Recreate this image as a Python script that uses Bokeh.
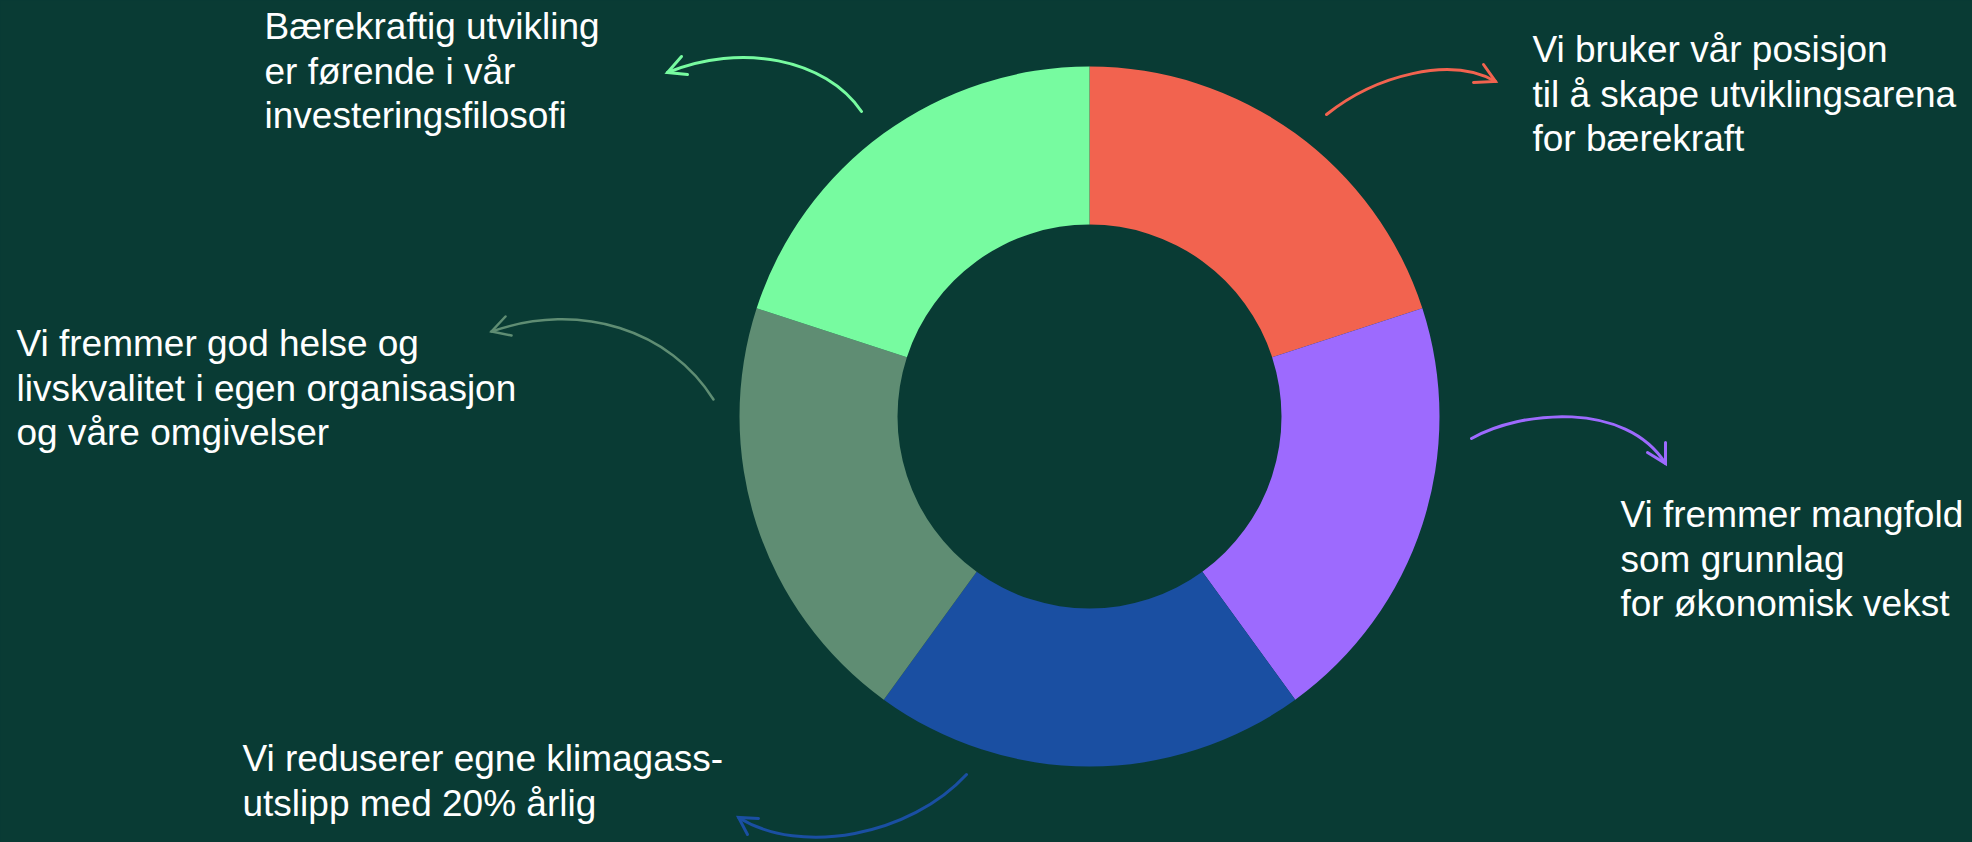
import numpy as np
from bokeh.plotting import figure
from bokeh.models import Range1d, ColumnDataSource
from bokeh.core.properties import value
from bokeh.embed import file_html
from bokeh.resources import INLINE

# ---- data ----
pillars = ["Vi bruker vår posisjon til å skape utviklingsarena for bærekraft",
           "Vi fremmer mangfold som grunnlag for økonomisk vekst",
           "Vi reduserer egne klimagassutslipp med 20% årlig",
           "Vi fremmer god helse og livskvalitet",
           "Bærekraftig utvikling er førende i vår investeringsfilosofi"]
shares = [1, 1, 1, 1, 1]
colors = ["#F2634F", "#9D6AFE", "#1A4FA2", "#5F8D73", "#77FBA0"]

label_lines = [
    ["Vi bruker vår posisjon", "til å skape utviklingsarena", "for bærekraft"],
    ["Vi fremmer mangfold", "som grunnlag", "for økonomisk vekst"],
    ["Vi reduserer egne klimagass-", "utslipp med 20% årlig"],
    ["Vi fremmer god helse og", "livskvalitet i egen organisasjon", "og våre omgivelser"],
    ["Bærekraftig utvikling", "er førende i vår", "investeringsfilosofi"],
]
# label anchors (page px: left x, first line y)
label_x = [1532, 1620, 242, 16, 264]
label_y = [49, 514, 758, 343, 26]
line_gap = 44.5

# arrows (page px): start, control 1, control 2, tip, arrowhead arms
arrow_start = [(1326, 114), (1471, 438), (966, 774), (713, 399), (861, 111)]
arrow_c1 = [(1375, 75), (1520, 410), (910, 835), (670, 330), (825, 58)]
arrow_c2 = [(1450, 55), (1625, 400), (800, 856), (580, 300), (740, 42)]
arrow_tip = [(1495, 81), (1665, 463), (738, 817), (491, 331), (667, 72)]
arrow_arm1 = [(1483, 64), (1647, 452), (758, 818), (505, 316), (681, 56)]
arrow_arm2 = [(1473, 82), (1665, 442), (747, 834), (511, 335), (687, 74)]
arrow_width = [3, 3, 3, 2.5, 3]

BG = "#093B34"
W, H = 1972, 842
cx, cy = 1089, 416
r_out, r_in = 350, 192

p = figure(width=W, height=H, output_backend="svg", toolbar_location=None,
           x_range=Range1d(0, W), y_range=Range1d(-H, 0),
           min_border=0, background_fill_color=BG, border_fill_color=BG,
           outline_line_color=None)
p.axis.visible = False
p.grid.visible = False

vals = np.array(shares, dtype=float)
cum = np.cumsum(vals) / vals.sum()
prev = np.concatenate([[0], cum[:-1]])
end_a = np.pi / 2 - 2 * np.pi * prev
start_a = np.pi / 2 - 2 * np.pi * cum
src = ColumnDataSource(dict(start=start_a, end=end_a, color=colors, name=pillars))
p.annular_wedge(x=cx, y=-cy, inner_radius=r_in, outer_radius=r_out,
                start_angle="start", end_angle="end", color="color",
                line_color=None, source=src)

# arrows
for i in range(5):
    (x0, y0), (x1, y1) = arrow_start[i], arrow_tip[i]
    (c1x, c1y), (c2x, c2y) = arrow_c1[i], arrow_c2[i]
    p.bezier(x0=x0, y0=-y0, x1=x1, y1=-y1, cx0=c1x, cy0=-c1y, cx1=c2x, cy1=-c2y,
             line_color=colors[i], line_width=arrow_width[i], line_cap="round")
    ax = [arrow_arm1[i][0], x1, arrow_arm2[i][0]]
    ay = [-arrow_arm1[i][1], -y1, -arrow_arm2[i][1]]
    p.line(ax, ay, line_color=colors[i], line_width=arrow_width[i],
           line_cap="round", line_join="miter")

# labels
tx, ty, tt = [], [], []
for i, lines in enumerate(label_lines):
    for k, s in enumerate(lines):
        tx.append(label_x[i])
        ty.append(-(label_y[i] + k * line_gap))
        tt.append(s)
p.text(x=tx, y=ty, text=tt, text_font=value("Liberation Sans"),
       text_font_size="37px", text_color="white",
       text_align="left", text_baseline="alphabetic")

html = file_html(p, INLINE)
html = html.replace("<head>", "<head><style>html,body{background:%s;}</style>" % BG, 1)
open("out.html", "w").write(html)
